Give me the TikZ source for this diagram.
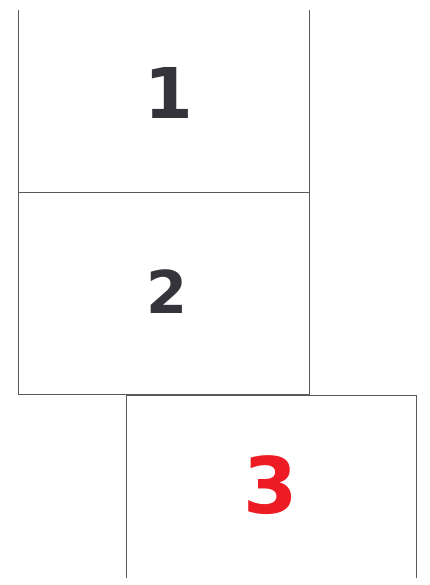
\documentclass[tikz,border=0pt]{standalone}
\usepackage{fontspec}
\setmainfont{DejaVu Sans}
\definecolor{pagegray}{RGB}{90,90,90}
\definecolor{digitgray}{RGB}{52,52,58}
\definecolor{digitred}{RGB}{237,28,36}
\usetikzlibrary{positioning}

\begin{document}
\begin{tikzpicture}[x=1pt,y=-1pt,
  pagebox/.style={draw=pagegray,line width=1pt,inner sep=0pt},
  pagenum/.style={font=\bfseries,text=digitgray,inner sep=0pt}]
\useasboundingbox (0,0) rectangle (429,585);
\begin{scope}
\clip (0,11) rectangle (429,577);
\node[pagebox,minimum width=290.5pt,minimum height=200pt] (page1) at (163.75,93) {};
\node[pagebox,minimum width=290.5pt,minimum height=201pt] (page2) at (163.75,293.5) {};
\node[pagebox,minimum width=290.5pt,minimum height=200pt] (page3) at (271.4,495.3) {};
\end{scope}
\node[pagenum,font=\fontsize{70}{70}\bfseries] (num1) at (168.5,92.5) {1};
\node[pagenum,font=\fontsize{59}{59}\bfseries] (num2) at (167.5,291.5) {2};
\node[pagenum,font=\fontsize{78}{78}\bfseries,text=digitred] (num3) at (271,485.5) {3};
\end{tikzpicture}
\end{document}
